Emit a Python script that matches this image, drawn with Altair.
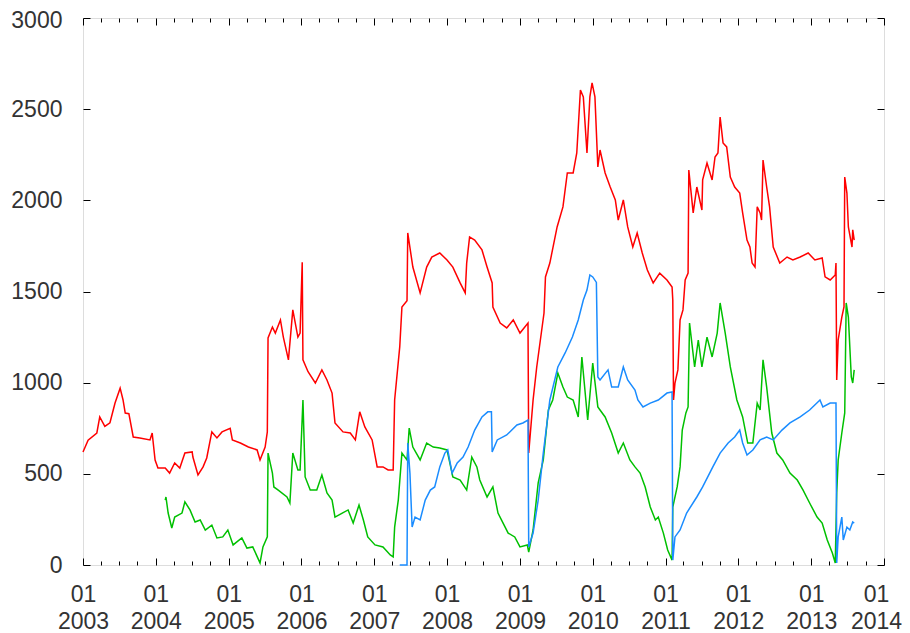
import altair as alt
import pandas as pd

# ---- data (decimal years) ----
red_t = [2003.00,2003.07,2003.19,2003.23,2003.30,2003.37,2003.44,2003.51,2003.55,2003.58,2003.63,2003.69,2003.78,2003.92,2003.95,2003.99,
         2004.03,2004.13,2004.19,2004.26,2004.33,2004.40,2004.50,2004.51,2004.58,2004.65,2004.70,2004.77,2004.84,2004.91,
         2005.02,2005.05,2005.16,2005.27,2005.39,2005.43,2005.50,2005.53,2005.54,2005.60,2005.64,2005.71,2005.75,2005.82,2005.88,2005.95,2005.98,
         2006.01,2006.02,2006.09,2006.19,2006.28,2006.35,2006.42,2006.46,2006.57,2006.67,2006.74,2006.80,2006.87,2006.97,
         2007.04,2007.12,2007.19,2007.26,2007.28,2007.35,2007.38,2007.45,2007.46,2007.53,2007.63,2007.72,2007.79,2007.90,
         2008.00,2008.08,2008.18,2008.25,2008.27,2008.31,2008.38,2008.48,2008.55,2008.62,2008.63,2008.73,2008.82,2008.91,
         2009.00,2009.11,2009.12,2009.18,2009.23,2009.28,2009.33,2009.35,2009.41,2009.51,2009.59,2009.65,2009.73,2009.78,2009.83,2009.87,2009.92,2009.96,2009.99,
         2010.03,2010.07,2010.10,2010.17,2010.24,2010.31,2010.35,2010.42,2010.48,2010.55,2010.61,2010.68,2010.75,2010.83,2010.92,
         2011.02,2011.09,2011.10,2011.11,2011.13,2011.17,2011.20,2011.24,2011.27,2011.31,2011.32,2011.38,2011.43,2011.50,2011.51,2011.57,2011.64,2011.68,2011.72,2011.75,2011.79,2011.84,2011.89,2011.95,
         2012.02,2012.06,2012.12,2012.16,2012.19,2012.23,2012.26,2012.30,2012.32,2012.34,2012.39,2012.43,2012.48,2012.57,2012.67,2012.75,2012.85,2012.96,
         2013.05,2013.15,2013.19,2013.26,2013.33,2013.34,2013.35,2013.37,2013.42,2013.45,2013.46,2013.49,2013.51,2013.56,2013.57,2013.59]
red_v = [620,685,724,812,760,780,888,970,905,833,830,702,696,686,724,576,
         532,532,504,560,532,614,620,592,494,538,587,730,697,730,
         750,686,669,647,631,576,647,730,1245,1305,1272,1344,1250,1125,1399,1250,1272,
         1660,1125,1060,998,1070,1015,943,779,730,724,686,840,757,686,
         538,538,521,521,905,1196,1415,1450,1821,1634,1492,1634,1689,1711,
         1673,1634,1547,1492,1656,1799,1782,1728,1634,1547,1415,1327,1300,1344,
         1272,1327,614,905,1086,1234,1382,1580,1656,1854,1964,2150,2150,2260,2605,2567,2260,2567,2644,
         2567,2183,2276,2150,2073,2002,1892,2002,1854,1744,1821,1711,1618,1547,1601,
         1563,1525,1453,905,998,1070,1344,1399,1563,1601,2166,1931,2073,1947,2112,2205,2112,2238,2260,2457,2315,2293,2128,2073,
         2040,1931,1782,1744,1656,1634,1964,1931,1892,2221,2073,1964,1744,1656,1689,1673,1689,1711,
         1673,1684,1580,1563,1591,1656,1015,1234,1360,1415,2128,2040,1854,1744,1838,1782]

green_t = [2004.13,2004.14,2004.17,2004.22,2004.26,2004.36,2004.40,2004.47,2004.54,2004.61,2004.68,2004.77,2004.84,2004.92,2004.99,
           2005.06,2005.18,2005.25,2005.33,2005.40,2005.43,2005.47,2005.53,2005.54,2005.60,2005.62,2005.68,2005.80,2005.84,2005.88,2005.95,2005.98,
           2006.02,2006.05,2006.12,2006.21,2006.28,2006.35,2006.42,2006.46,2006.56,2006.64,2006.71,2006.79,2006.85,2006.91,
           2007.01,2007.12,2007.22,2007.26,2007.28,2007.33,2007.38,2007.45,2007.48,2007.53,2007.63,2007.72,2007.81,2007.90,
           2008.00,2008.08,2008.18,2008.27,2008.34,2008.41,2008.45,2008.55,2008.63,2008.70,2008.77,2008.84,2008.93,
           2009.00,2009.10,2009.12,2009.18,2009.25,2009.32,2009.39,2009.45,2009.52,2009.59,2009.65,2009.73,2009.80,2009.85,2009.93,
           2010.00,2010.07,2010.10,2010.17,2010.26,2010.35,2010.42,2010.51,2010.58,2010.65,2010.72,2010.79,2010.86,2010.90,2010.97,
           2011.03,2011.09,2011.10,2011.16,2011.20,2011.23,2011.28,2011.31,2011.33,2011.40,2011.45,2011.50,2011.57,2011.64,2011.71,2011.75,2011.82,2011.89,2011.98,
           2012.06,2012.13,2012.20,2012.26,2012.30,2012.34,2012.39,2012.46,2012.53,2012.61,2012.71,2012.81,2012.89,2012.98,
           2013.08,2013.15,2013.22,2013.29,2013.33,2013.35,2013.37,2013.42,2013.46,2013.48,2013.51,2013.55,2013.57,2013.59]
green_v = [356,373,285,203,263,285,346,302,236,247,192,219,148,154,192,
           110,148,93,99,38,11,99,154,614,504,428,411,373,340,614,521,521,
           905,483,411,411,494,395,356,263,285,302,230,329,247,154,
           110,99,55,44,208,356,614,576,751,647,576,669,647,642,
           631,483,466,411,592,538,466,373,428,285,230,175,154,
           99,110,71,192,450,576,850,905,1053,976,921,905,812,1141,795,
           1108,867,850,812,724,614,669,576,538,504,428,318,247,263,175,
           82,27,318,428,538,740,834,867,1327,1086,1234,1086,1250,1141,1272,1437,1272,1086,905,
           812,669,669,888,850,1125,976,724,614,576,504,466,411,340,
           263,230,137,66,11,395,576,724,834,1437,1360,1031,998,1070]

blue_t = [2007.35,2007.45,2007.46,2007.49,2007.52,2007.56,2007.63,2007.70,2007.77,2007.83,2007.90,2007.97,
          2008.01,2008.07,2008.14,2008.22,2008.29,2008.38,2008.48,2008.56,2008.61,2008.62,2008.69,2008.82,2008.96,
          2009.04,2009.11,2009.12,2009.18,2009.25,2009.32,2009.41,2009.52,2009.62,2009.72,2009.80,2009.87,2009.92,2009.96,
          2010.00,2010.05,2010.07,2010.10,2010.21,2010.26,2010.35,2010.42,2010.48,2010.58,2010.62,2010.69,2010.79,2010.90,
          2011.02,2011.09,2011.10,2011.13,2011.20,2011.29,2011.43,2011.51,2011.65,2011.75,2011.86,2011.95,
          2012.02,2012.06,2012.12,2012.20,2012.30,2012.39,2012.48,2012.60,2012.71,2012.85,2012.98,
          2013.12,2013.16,2013.26,2013.34,2013.35,2013.37,2013.42,2013.44,2013.49,2013.53,2013.57,2013.59]
blue_v = [0,0,669,504,208,263,247,356,411,428,538,614,
          631,504,560,592,647,740,812,840,840,620,686,713,768,
          779,795,99,175,356,614,905,1086,1163,1250,1344,1453,1508,1591,
          1580,1550,1031,1015,1070,976,976,1086,1015,960,905,867,888,905,
          943,949,27,154,192,285,373,428,538,614,669,702,
          740,669,603,631,686,702,686,740,779,812,850,
          905,867,888,888,11,154,263,137,208,192,236,230]

series_names = ["red", "green", "blue"]
series_colors = ["#ff0000", "#00c000", "#1a8cff"]
y_ticks = [0, 500, 1000, 1500, 2000, 2500, 3000]
years = list(range(2003, 2015))


def to_date(t):
    y = int(t)
    return pd.Timestamp(year=y, month=1, day=1) + pd.Timedelta(days=round((t - y) * 365.25, 2))


frames = []
for name, ts, vs in [("red", red_t, red_v), ("green", green_t, green_v), ("blue", blue_t, blue_v)]:
    frames.append(pd.DataFrame({"date": [to_date(t).strftime("%Y-%m-%dT%H:%M:%S") for t in ts],
                                "value": vs, "series": name, "idx": list(range(len(ts)))}))
df = pd.concat(frames, ignore_index=True)

W, H = 801, 547
FONT = "Liberation Sans"
TXT = "#333333"

year_vals = [alt.DateTime(year=y, month=1, date=1) for y in years]
quarter_vals = [alt.DateTime(year=y, month=m, date=1) for y in range(2003, 2014) for m in (1, 4, 7, 10)] + \
               [alt.DateTime(year=2014, month=1, date=1)]

xscale = alt.Scale(domain=[alt.DateTime(year=2003, month=1, date=1), alt.DateTime(year=2014, month=1, date=1)])
yscale = alt.Scale(domain=[0, 3000], nice=False, zero=False)
cscale = alt.Scale(domain=series_names, range=series_colors)

tick_size_x = {"condition": {"test": "month(datum.value) == 0", "value": 7}, "value": 4}
last_label_shift = {"condition": {"test": "year(datum.value) >= 2014", "value": -8}, "value": 0}
top_label_shift = {"condition": {"test": "datum.value >= 3000", "value": 2}, "value": 0}

base = alt.Chart(df)

lines = base.mark_line(strokeWidth=1.5, interpolate="linear").encode(
    x=alt.X("date:T", scale=xscale, title=None,
            axis=alt.Axis(orient="bottom", values=year_vals, ticks=False, tickSize=0, domain=False, grid=False,
                          labelExpr="[timeFormat(datum.value, '%m'), timeFormat(datum.value, '%Y')]",
                          labelFont=FONT, labelFontSize=23, labelColor=TXT, labelPadding=18,
                          labelLineHeight=27, labelFlush=False, labelOverlap=False,
                          labelOffset=last_label_shift,
                          labelAlign="center", labelBaseline="top")),
    y=alt.Y("value:Q", scale=yscale, title=None,
            axis=alt.Axis(orient="left", values=y_ticks, format="d", ticks=False, tickSize=0, domain=False, grid=False,
                          labelFont=FONT, labelFontSize=23, labelColor=TXT, labelPadding=21,
                          labelOffset=top_label_shift,
                          labelFlush=False, labelOverlap=False)),
    color=alt.Color("series:N", scale=cscale, legend=None),
    detail="series:N",
    order="idx:Q",
)

# inward ticks at bottom and left
ticks_a = base.mark_line(strokeOpacity=0).encode(
    x=alt.X("date:T", scale=xscale, title=None,
            axis=alt.Axis(orient="top", offset=-H, values=quarter_vals, labels=False, domain=False, grid=False,
                          tickSize=tick_size_x, tickColor="black", tickWidth=1)),
    y=alt.Y("value:Q", scale=yscale, title=None,
            axis=alt.Axis(orient="right", offset=-W, values=y_ticks, labels=False, domain=False, grid=False,
                          tickSize=7, tickColor="black", tickWidth=1)),
    detail="series:N",
)

# inward ticks at top and right
ticks_b = base.mark_line(strokeOpacity=0).encode(
    x=alt.X("date:T", scale=xscale, title=None,
            axis=alt.Axis(orient="bottom", offset=-H, values=quarter_vals, labels=False, domain=False, grid=False,
                          tickSize=tick_size_x, tickColor="black", tickWidth=1)),
    y=alt.Y("value:Q", scale=yscale, title=None,
            axis=alt.Axis(orient="left", offset=-W, values=y_ticks, labels=False, domain=False, grid=False,
                          tickSize=7, tickColor="black", tickWidth=1)),
    detail="series:N",
)

chart = alt.layer(lines, ticks_a, ticks_b).resolve_axis(x="independent", y="independent").properties(
    width=W, height=H,
    autosize=alt.AutoSizeParams(type="none"),
    padding={"left": 75, "top": 10, "right": 18, "bottom": 68},
).configure_view(stroke="black", strokeWidth=1.6).configure(background="white")

chart.save("out.html", embed_options={"renderer": "svg", "actions": False})
